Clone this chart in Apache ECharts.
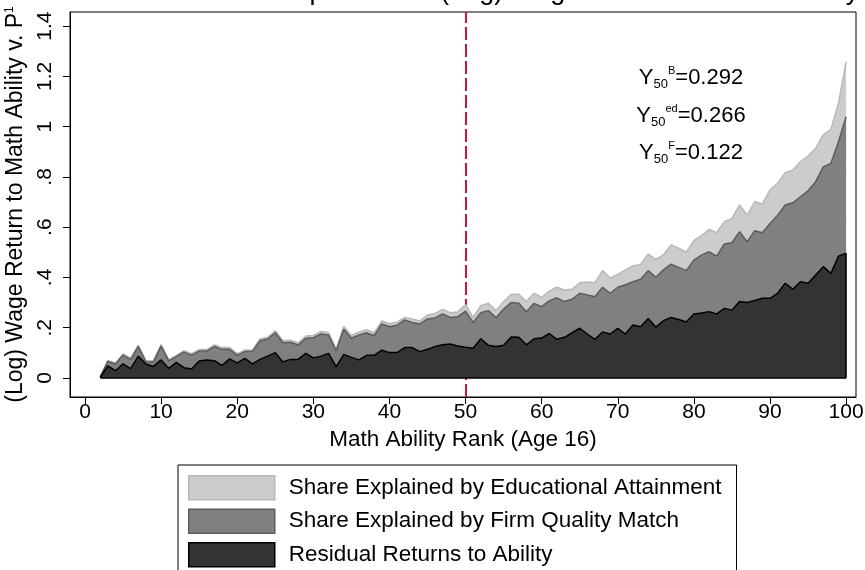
<!DOCTYPE html>
<html>
<head>
<meta charset="utf-8">
<script src="https://cdn.jsdelivr.net/npm/echarts@6/dist/echarts.min.js"></script>
<style>
  html, body { margin: 0; padding: 0; background: #ffffff; }
  #chart { width: 865px; height: 570px; }
</style>
</head>
<body>
<div id="chart"></div>
<script>
// Math ability rank at age 16
const ranks = [
  2, 3, 4, 5, 6, 7, 8, 9, 10, 11, 12, 13, 14, 15, 16, 17, 18, 19, 20,
  21, 22, 23, 24, 25, 26, 27, 28, 29, 30, 31, 32, 33, 34, 35, 36, 37, 38, 39, 40,
  41, 42, 43, 44, 45, 46, 47, 48, 49, 50, 51, 52, 53, 54, 55, 56, 57, 58, 59, 60,
  61, 62, 63, 64, 65, 66, 67, 68, 69, 70, 71, 72, 73, 74, 75, 76, 77, 78, 79, 80,
  81, 82, 83, 84, 85, 86, 87, 88, 89, 90, 91, 92, 93, 94, 95, 96, 97, 98, 99, 100
];

// Baseline (log) wage return relative to P1 (Y^B)
const totalReturn = [
  0.005, 0.070, 0.060, 0.096, 0.079, 0.131, 0.069, 0.069, 0.133, 0.073, 0.090, 0.109, 0.097, 0.113, 0.113, 0.132, 0.121, 0.121, 0.097,
  0.111, 0.112, 0.155, 0.162, 0.188, 0.148, 0.150, 0.139, 0.167, 0.169, 0.185, 0.181, 0.117, 0.205, 0.169, 0.182, 0.192, 0.180, 0.227, 0.216,
  0.222, 0.241, 0.235, 0.227, 0.251, 0.257, 0.273, 0.260, 0.263, 0.292, 0.241, 0.288, 0.297, 0.268, 0.304, 0.333, 0.333, 0.304, 0.337, 0.321,
  0.345, 0.361, 0.350, 0.353, 0.379, 0.382, 0.379, 0.427, 0.398, 0.412, 0.430, 0.446, 0.452, 0.493, 0.472, 0.490, 0.529, 0.516, 0.501, 0.546,
  0.566, 0.591, 0.578, 0.622, 0.635, 0.688, 0.648, 0.701, 0.692, 0.748, 0.774, 0.817, 0.827, 0.860, 0.883, 0.914, 0.967, 0.989, 1.093, 1.258
];

// Return net of educational attainment (Y^ed)
const netOfEducation = [
  0.004, 0.066, 0.056, 0.091, 0.074, 0.125, 0.064, 0.064, 0.127, 0.068, 0.085, 0.103, 0.091, 0.107, 0.107, 0.125, 0.114, 0.114, 0.090,
  0.105, 0.105, 0.148, 0.155, 0.180, 0.140, 0.142, 0.131, 0.158, 0.160, 0.175, 0.171, 0.107, 0.194, 0.158, 0.171, 0.180, 0.168, 0.215, 0.204,
  0.210, 0.231, 0.221, 0.215, 0.235, 0.239, 0.255, 0.241, 0.244, 0.266, 0.221, 0.260, 0.268, 0.240, 0.274, 0.300, 0.297, 0.264, 0.297, 0.284,
  0.307, 0.319, 0.304, 0.313, 0.337, 0.330, 0.323, 0.361, 0.337, 0.361, 0.371, 0.383, 0.393, 0.427, 0.401, 0.430, 0.453, 0.440, 0.427, 0.469,
  0.489, 0.502, 0.485, 0.533, 0.538, 0.582, 0.542, 0.586, 0.578, 0.615, 0.647, 0.688, 0.697, 0.721, 0.745, 0.781, 0.840, 0.854, 0.940, 1.039
];

// Residual return net of firm quality match (Y^F)
const residualReturn = [
  0.003, 0.048, 0.029, 0.056, 0.037, 0.087, 0.056, 0.046, 0.072, 0.038, 0.062, 0.041, 0.036, 0.068, 0.072, 0.069, 0.050, 0.076, 0.060,
  0.078, 0.056, 0.074, 0.087, 0.101, 0.064, 0.074, 0.074, 0.098, 0.080, 0.087, 0.098, 0.045, 0.094, 0.082, 0.072, 0.090, 0.090, 0.111, 0.101,
  0.101, 0.121, 0.121, 0.105, 0.114, 0.125, 0.132, 0.135, 0.127, 0.122, 0.118, 0.156, 0.130, 0.125, 0.130, 0.163, 0.162, 0.132, 0.156, 0.159,
  0.177, 0.154, 0.162, 0.180, 0.198, 0.175, 0.154, 0.183, 0.175, 0.198, 0.175, 0.211, 0.204, 0.237, 0.202, 0.228, 0.241, 0.233, 0.223, 0.255,
  0.259, 0.264, 0.255, 0.277, 0.270, 0.304, 0.300, 0.308, 0.317, 0.317, 0.337, 0.377, 0.353, 0.383, 0.377, 0.410, 0.443, 0.416, 0.485, 0.496
];

const xTicks = [0, 10, 20, 30, 40, 50, 60, 70, 80, 90, 100];
const yTicks = [0, 0.2, 0.4, 0.6, 0.8, 1, 1.2, 1.4];
const medianRank = 50;

const seriesNames = [
  'Share Explained by Educational Attainment',
  'Share Explained by Firm Quality Match',
  'Residual Returns to Ability'
];

const FONT = '"Liberation Sans", Arial, Helvetica, sans-serif';
const fills = ['#cccccc', '#808080', '#333333'];
const edges = ['#b8b8b8', '#5c5c5c', '#000000'];

const pairs = vals => ranks.map((r, i) => [r, vals[i]]);
const lastRank = ranks[ranks.length - 1];

// Stata-style tick labels: ".2" rather than "0.2"
const stataNum = v => {
  if (v === 0) return '0';
  const s = String(+v.toFixed(3));
  return s.replace(/^0\./, '.');
};

const areaSeries = (idx, vals, extra) => Object.assign({
  name: seriesNames[idx],
  type: 'line',
  data: pairs(vals),
  symbol: 'none',
  z: 2 + idx,
  lineStyle: { color: edges[idx], width: 1.5 },
  itemStyle: { color: fills[idx], borderColor: edges[idx] },
  areaStyle: { color: fills[idx], opacity: 1, origin: 0 },
  emphasis: { disabled: true },
  animation: false
}, extra || {});

const annoRich = {
  y:   { fontFamily: FONT, fontSize: 22, lineHeight: 26, color: '#000', verticalAlign: 'middle' },
  sub: { fontFamily: FONT, fontSize: 13, lineHeight: 13, color: '#000', verticalAlign: 'bottom' },
  sup: { fontFamily: FONT, fontSize: 11, lineHeight: 11, color: '#000', verticalAlign: 'top' },
  v:   { fontFamily: FONT, fontSize: 22, lineHeight: 26, color: '#000', verticalAlign: 'middle' }
};
const annotation = (sup, value, cy) => ({
  type: 'text',
  x: 691,
  y: cy,
  silent: true,
  style: {
    text: '{y|Y}{sub|50}{sup|' + sup + '}{v|=' + value + '}',
    rich: annoRich,
    textAlign: 'center',
    textVerticalAlign: 'middle'
  }
});

const chart = echarts.init(document.getElementById('chart'), null, { renderer: 'canvas' });

chart.setOption({
  backgroundColor: '#ffffff',
  animation: false,
  title: {
    text: 'Decomposition of (Log) Wage Returns to Math Ability',
    left: 224,
    top: -22,
    padding: 0,
    textStyle: { fontFamily: FONT, fontSize: 27, fontWeight: 'normal', color: '#000' }
  },
  grid: {
    left: 70, right: 9, top: 12, bottom: 173,
    outerBoundsMode: 'none',
    containLabel: false,
    show: true, borderColor: '#000', borderWidth: 1, backgroundColor: '#ffffff'
  },
  xAxis: {
    type: 'value',
    min: -1.97,
    max: 101.3,
    name: 'Math Ability Rank (Age 16)',
    nameLocation: 'middle',
    nameGap: 31,
    nameTextStyle: { fontFamily: FONT, fontSize: 22.5, color: '#000' },
    axisLine: { show: true, onZero: false, lineStyle: { color: '#000', width: 1 } },
    axisTick: { show: true, inside: false, length: 7, customValues: xTicks, lineStyle: { color: '#000' } },
    axisLabel: { customValues: xTicks, margin: 5, fontFamily: FONT, fontSize: 21, color: '#000', formatter: v => String(v) },
    splitLine: { show: false }
  },
  yAxis: {
    type: 'value',
    min: -0.0756,
    max: 1.456,
    name: '(Log) Wage Return to Math Ability v. P{sup|1}',
    nameLocation: 'middle',
    nameGap: 41,
    nameRotate: 90,
    nameTextStyle: {
      fontFamily: FONT, fontSize: 23, color: '#000',
      rich: { sup: { fontFamily: FONT, fontSize: 12, color: '#000', verticalAlign: 'top' } }
    },
    axisLine: { show: true, onZero: false, lineStyle: { color: '#000', width: 1 } },
    axisTick: { show: true, inside: false, length: 7, customValues: yTicks, lineStyle: { color: '#000' } },
    axisLabel: { customValues: yTicks, rotate: 90, margin: 14, fontFamily: FONT, fontSize: 21, color: '#000', formatter: stataNum },
    splitLine: { show: false }
  },
  legend: {
    orient: 'vertical',
    left: 178,
    top: 465,
    height: 140,
    padding: [10, 15, 10, 10],
    borderColor: '#000',
    borderWidth: 1,
    itemWidth: 86,
    itemHeight: 24,
    itemGap: 8,
    selectedMode: false,
    textStyle: { fontFamily: FONT, fontSize: 22.5, color: '#000', padding: [0, 0, 0, 9] },
    data: seriesNames.map((n, i) => ({
      name: n,
      icon: 'rect',
      itemStyle: { color: fills[i], borderColor: edges[i], borderWidth: 1.5 }
    }))
  },
  series: [
    areaSeries(0, totalReturn, {
      markLine: {
        silent: true,
        z: 1,
        symbol: 'none',
        label: { show: false },
        lineStyle: { color: '#cf1145', width: 2, type: [13, 4] },
        data: [{ xAxis: medianRank }]
      }
    }),
    areaSeries(1, netOfEducation),
    areaSeries(2, residualReturn, {
      markLine: {
        silent: true,
        symbol: 'none',
        label: { show: false },
        lineStyle: { color: '#000', width: 1.5, type: 'solid' },
        data: [
          [{ coord: [ranks[0], 0] }, { coord: [lastRank, 0] }],
          [{ coord: [lastRank, 0] }, { coord: [lastRank, residualReturn[residualReturn.length - 1]] }]
        ]
      }
    })
  ],
  graphic: [
    annotation('B', '0.292', 78),
    annotation('ed', '0.266', 116),
    annotation('F', '0.122', 153)
  ]
});
</script>
</body>
</html>
